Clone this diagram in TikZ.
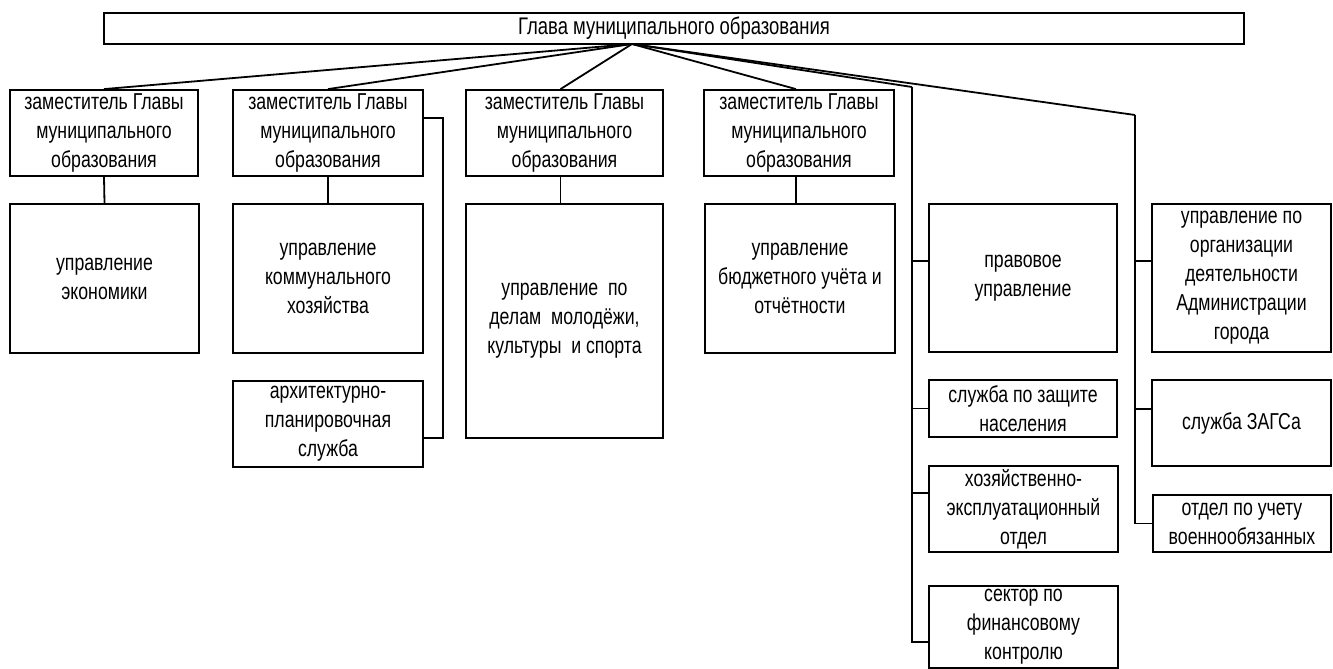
\documentclass[tikz,border=0pt]{standalone}
\usepackage{fontspec}
\setmainfont{Liberation Sans}[FakeStretch=0.77]
\usepackage{tikz}
\usetikzlibrary{calc}
\usetikzlibrary{positioning}

\begin{document}
\begin{tikzpicture}[x=1pt,y=-1pt,line width=1.8pt]
	\tikzstyle{unit}=[draw, rectangle, align=center, inner sep=0pt, font=\fontsize{23}{29}\selectfont]
	\tikzstyle{zam}=[unit, minimum height=86pt]
	\useasboundingbox (0,0) rectangle (1333,669);
	\node[draw, rectangle, minimum width=1140pt, minimum height=31pt, inner sep=0pt, font=\fontsize{24}{26}\selectfont]
		(glava) at (674,28.5) {Глава муниципального образования};
	\coordinate (hub) at (632,44);
	% заместители
	\node[zam, minimum width=188pt] (zam1) at (104,133) {заместитель Главы\\муниципального\\образования};
	\node[zam, minimum width=190pt] (zam2) at (328,133) {заместитель Главы\\муниципального\\образования};
	\node[zam, minimum width=197pt] (zam3) at (564.5,133) {заместитель Главы\\муниципального\\образования};
	\node[zam, minimum width=190pt] (zam4) at (799,133) {заместитель Главы\\муниципального\\образования};
	\coordinate (v5) at (912,87);
	\coordinate (v6) at (1135,115);
	% управления
	\node[unit, minimum width=189pt, minimum height=149pt] (econ) at (104.5,278.5) {управление\\экономики};
	\node[unit, minimum width=190pt, minimum height=149pt] (komm) at (328,278.5) {управление\\коммунального\\хозяйства};
	\node[unit, minimum width=190pt, minimum height=86pt] (arch) at (328,424) {архитектурно-\\планировочная\\служба};
	\node[unit, minimum width=197pt, minimum height=234pt] (molod) at (564.5,321) {управление~ по\\делам~ молодёжи,\\культуры~ и спорта};
	\node[unit, minimum width=190pt, minimum height=149pt] (budget) at (800,278.5) {управление\\бюджетного учёта и\\отчётности};
	\node[unit, minimum width=188pt, minimum height=148pt] (pravo) at (1023,278) {правовое\\управление};
	\node[unit, minimum width=188pt, minimum height=57pt] (zashch) at (1023,408.5) {служба по защите\\населения};
	\node[unit, minimum width=189pt, minimum height=86pt] (khoz) at (1023.5,509) {хозяйственно-\\эксплуатационный\\отдел};
	\node[unit, minimum width=189pt, minimum height=82pt] (sektor) at (1023.5,627) {сектор по\\финансовому\\контролю};
	\node[unit, minimum width=179pt, minimum height=148pt] (org) at (1241.5,278) {управление по\\организации\\деятельности\\Администрации\\города};
	\node[unit, minimum width=179pt, minimum height=86pt] (zags) at (1241.5,423) {служба ЗАГСа};
	\node[unit, minimum width=178pt, minimum height=57pt] (voen) at (1242,523.5) {отдел по учету\\военнообязанных};
	% связи
	\draw (hub) -- (zam1.north);
	\draw (hub) -- (zam2.north);
	\draw (hub) -- ([xshift=-4pt]zam3.north);
	\draw (hub) -- ([xshift=-3pt]zam4.north);
	\draw (hub) -- (v5);
	\draw (hub) -- (v6);
	\draw (zam1.south) -- (econ.north);
	\draw (zam2.south) -- (komm.north);
	\draw ([xshift=-4pt]zam3.south) -- ([xshift=-4pt]molod.north);
	\draw ([xshift=-3pt]zam4.south) -- ([xshift=-4pt]budget.north);
	\draw ([yshift=15pt]zam2.east) -- ++(19,0) |- ([yshift=-14pt]arch.east);
	\draw ([yshift=17pt]pravo.west) -| (v5);
	\draw (zashch.west) -| (v5);
	\draw ([yshift=16pt]khoz.west) -| (v5);
	\draw ([yshift=-15pt]sektor.west) -| (v5);
	\draw ([yshift=17pt]org.west) -| (v6);
	\draw ([yshift=14pt]zags.west) -| (v6);
	\draw (voen.west) -| (v6);
\end{tikzpicture}
\end{document}
